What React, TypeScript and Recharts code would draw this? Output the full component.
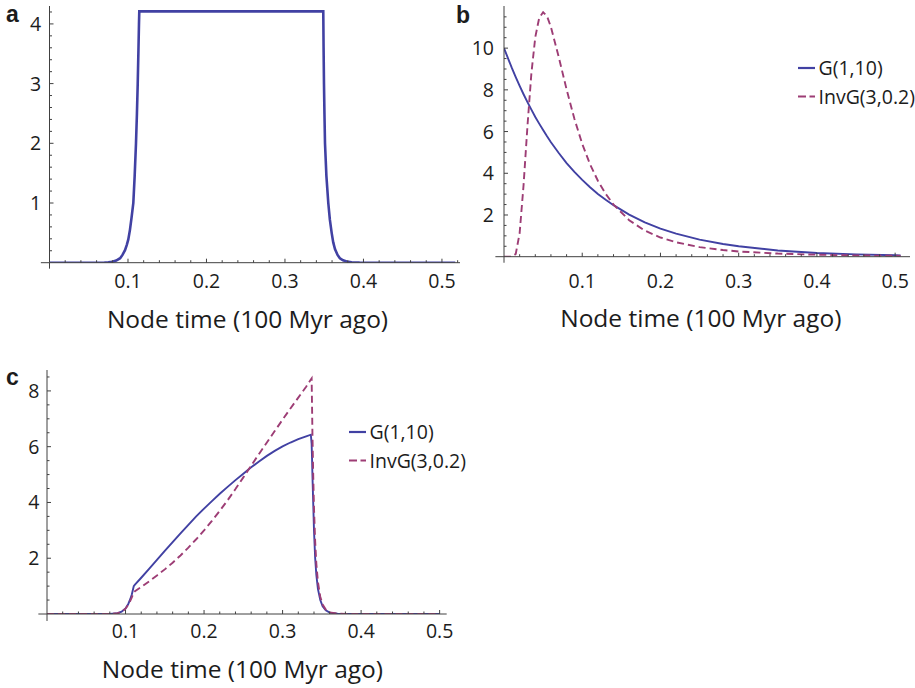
import React from 'react';
import { LineChart, Line, XAxis, YAxis, ReferenceLine, Legend } from 'recharts';

const FONT = "'Open Sans', 'DejaVu Sans', sans-serif";
const LETTER_FONT = "'Liberation Sans', Arial, sans-serif";
const BLUE = '#4141a3';
const PLUM = '#9d3d75';
const AXIS = '#404040';
const INK = '#1c1c1c';

const TITLE = 'Node time (100 Myr ago)';
const seriesNames = ['G(1,10)', 'InvG(3,0.2)'];

// panel a: calibration density with soft bounds
const aTime = [0, 0.04, 0.06, 0.07, 0.075, 0.08, 0.085, 0.09, 0.093, 0.0962, 0.0985, 0.1004, 0.1025, 0.1045,
  0.1068, 0.1085, 0.1102, 0.1114, 0.1124, 0.1133, 0.114, 0.1144, 0.3488, 0.3492, 0.3497, 0.3503, 0.351,
  0.3528, 0.3552, 0.3572, 0.3595, 0.3615, 0.3637, 0.367, 0.37, 0.374, 0.3786, 0.385, 0.395, 0.42, 0.517];
const aDensity = [0, 0, 0, 0.002, 0.006, 0.015, 0.035, 0.075, 0.13, 0.21, 0.3, 0.39, 0.55, 0.75,
  1.0, 1.45, 2.0, 2.5, 3.0, 3.55, 4.0, 4.21, 4.21, 3.6, 3.0, 2.5, 2.0,
  1.45, 1.0, 0.72, 0.5, 0.34, 0.23, 0.13, 0.075, 0.04, 0.02, 0.008, 0.002, 0, 0];

// panel b: the two rate priors
const bTime = [0, 0.01, 0.015, 0.02, 0.025, 0.03, 0.035, 0.04, 0.045, 0.05, 0.055, 0.06, 0.07, 0.08, 0.09, 0.1,
  0.11, 0.12, 0.13, 0.14, 0.16, 0.18, 0.2, 0.22, 0.25, 0.28, 0.3, 0.35, 0.4, 0.45, 0.5, 0.507];
const bGamma = [10, 9.05, 8.61, 8.19, 7.79, 7.41, 7.05, 6.7, 6.38, 6.07, 5.77, 5.49, 4.97, 4.49, 4.07, 3.68,
  3.33, 3.01, 2.73, 2.47, 2.02, 1.65, 1.35, 1.11, 0.82, 0.61, 0.5, 0.3, 0.18, 0.11, 0.07, 0.06];
const bInvGamma = [0, 0.001, 0.13, 1.13, 3.43, 6.27, 8.79, 10.53, 11.45, 11.72, 11.53, 11.01, 9.57, 8.02, 6.61, 5.41,
  4.43, 3.64, 3.01, 2.5, 1.75, 1.25, 0.92, 0.69, 0.46, 0.32, 0.25, 0.15, 0.095, 0.062, 0.043, 0.041];

// panel c: resulting node-time densities
const cTime = [0, 0.06, 0.08, 0.09, 0.095, 0.1, 0.1035, 0.106, 0.108, 0.1095, 0.1105, 0.112, 0.12, 0.13, 0.14,
  0.15, 0.16, 0.17, 0.18, 0.19, 0.2, 0.21, 0.22, 0.23, 0.24, 0.25, 0.26, 0.27, 0.28, 0.29, 0.3, 0.31, 0.32,
  0.33, 0.336, 0.337, 0.3375, 0.338, 0.339, 0.34, 0.3415, 0.343, 0.345, 0.348, 0.351, 0.355, 0.36, 0.37,
  0.38, 0.4, 0.45, 0.5];
const cGamma = [0, 0, 0.005, 0.03, 0.08, 0.2, 0.36, 0.53, 0.7, 0.88, 1.0, 1.05, 1.3, 1.62, 1.94,
  2.26, 2.58, 2.89, 3.2, 3.5, 3.78, 4.05, 4.31, 4.56, 4.8, 5.03, 5.26, 5.47, 5.67, 5.85, 6.01, 6.15, 6.27,
  6.37, 6.43, 6.1, 5.6, 5.0, 4.0, 3.0, 2.0, 1.4, 0.9, 0.5, 0.28, 0.13, 0.05, 0.01,
  0, 0, 0, 0];
const cInvGamma = [0, 0, 0.005, 0.03, 0.08, 0.19, 0.33, 0.47, 0.6, 0.7, 0.77, 0.82, 0.97, 1.17, 1.38,
  1.6, 1.84, 2.1, 2.38, 2.68, 3.0, 3.34, 3.7, 4.08, 4.48, 4.9, 5.32, 5.74, 6.15, 6.56, 6.97, 7.37, 7.76,
  8.15, 8.41, 8.45, 7.5, 6.5, 5.0, 3.8, 2.6, 1.8, 1.15, 0.62, 0.34, 0.16, 0.06, 0.012,
  0, 0, 0, 0];

const timeTicks = [0.02, 0.04, 0.06, 0.08, 0.1, 0.12, 0.14, 0.16, 0.18, 0.2, 0.22, 0.24, 0.26, 0.28, 0.3,
  0.32, 0.34, 0.36, 0.38, 0.4, 0.42, 0.44, 0.46, 0.48, 0.5];
const aTimeTicks = [...timeTicks, 0.52];
const aDensityTicks = [0.2, 0.4, 0.6, 0.8, 1, 1.2, 1.4, 1.6, 1.8, 2, 2.2, 2.4, 2.6, 2.8, 3, 3.2, 3.4, 3.6, 3.8, 4, 4.2];
const bDensityTicks = [0.5, 1, 1.5, 2, 2.5, 3, 3.5, 4, 4.5, 5, 5.5, 6, 6.5, 7, 7.5, 8, 8.5, 9, 9.5, 10, 10.5, 11, 11.5];
const cDensityTicks = [0.5, 1, 1.5, 2, 2.5, 3, 3.5, 4, 4.5, 5, 5.5, 6, 6.5, 7, 7.5, 8, 8.5];

const aRows = aTime.map((t, i) => ({ t, a: aDensity[i] }));
const bRows = bTime.map((t, i) => ({ t, g: bGamma[i], ig: bInvGamma[i] }));
const cRows = cTime.map((t, i) => ({ t, g: cGamma[i], ig: cInvGamma[i] }));

const isMajor = (v: number, step: number) => Math.abs(v / step - Math.round(v / step)) < 1e-6;

function TimeTick({ x, y, payload, drop }: any) {
  const v = payload.value;
  const major = isMajor(v, 0.1);
  return (
    <g>
      <line x1={x} x2={x} y1={y} y2={y - (major ? 4 : 2.5)} stroke={AXIS} strokeWidth={1} />
      {major && (
        <text x={x} y={y + drop} textAnchor="middle" fontFamily={FONT} fontSize={19.5} fill={INK}>
          {v.toFixed(1)}
        </text>
      )}
    </g>
  );
}

function DensityTick({ x, y, payload, step, gap }: any) {
  const v = payload.value;
  const major = isMajor(v, step);
  return (
    <g>
      <line x1={x} x2={x + (major ? 4 : 2.5)} y1={y} y2={y} stroke={AXIS} strokeWidth={1} />
      {major && (
        <text x={x - gap} y={y + 7} textAnchor="end" fontFamily={FONT} fontSize={19.5} fill={INK}>
          {v}
        </text>
      )}
    </g>
  );
}

function PriorKey() {
  return (
    <svg width={125} height={48} style={{ display: 'block', overflow: 'visible' }}>
      {seriesNames.map((name, i) => {
        const yy = 10 + i * 28.5;
        return (
          <g key={name}>
            <line x1={0} x2={17} y1={yy} y2={yy} stroke={i ? PLUM : BLUE} strokeWidth={2.2}
              strokeDasharray={i ? '8 3.5' : undefined} />
            <text x={20.5} y={yy + 7} fontFamily={FONT} fontSize={19.5} fill={INK}>{name}</text>
          </g>
        );
      })}
    </svg>
  );
}

const titleAt = (shift: number, drop: number) => (props: any) => {
  const vb = props.viewBox || { x: 0, y: 0, width: 0 };
  return (
    <text x={vb.x + vb.width / 2 + shift} y={vb.y + drop} textAnchor="middle" fontFamily={FONT} fontSize={24.5} fill={INK}>
      {TITLE}
    </text>
  );
};

interface Series { key: string; color: string; dash?: string; width: number; name: string }

// axes need a non-zero band to be drawn, so each gets 1px taken from the margin
function PriorPanel(p: {
  rows: any[]; series: Series[]; box: number[]; margin: any; xMax: number; yMax: number;
  xTicks: number[]; yTicks: number[]; yStep: number; tickDrop: number; yGap: number;
  titleShift: number; titleDrop: number; stub: number; keyAt?: number[];
}) {
  const m = { ...p.margin, left: p.margin.left - 1, bottom: p.margin.bottom - 1 };
  return (
    <div style={{ position: 'absolute', left: p.box[0], top: p.box[1] }}>
      <LineChart width={p.box[2]} height={p.box[3]} data={p.rows} margin={m}>
        <XAxis type="number" dataKey="t" domain={[0, p.xMax]} allowDataOverflow ticks={p.xTicks} interval={0}
          height={1} tickSize={0} tickMargin={0} tickLine={false} stroke={AXIS}
          tick={<TimeTick drop={p.tickDrop} />} label={titleAt(p.titleShift, p.titleDrop)} />
        <YAxis type="number" domain={[0, p.yMax]} allowDataOverflow ticks={p.yTicks} interval={0}
          width={1} tickSize={0} tickMargin={0} tickLine={false} stroke={AXIS}
          tick={<DensityTick step={p.yStep} gap={p.yGap} />} />
        <ReferenceLine segment={[{ x: -0.011, y: 0 }, { x: 0, y: 0 }]} stroke={AXIS} ifOverflow="visible" />
        <ReferenceLine segment={[{ x: 0, y: 0 }, { x: 0, y: -p.stub }]} stroke={AXIS} ifOverflow="visible" />
        {p.series.map((s) => (
          <Line key={s.key} name={s.name} type="linear" dataKey={s.key} stroke={s.color} strokeWidth={s.width}
            strokeDasharray={s.dash} dot={false} activeDot={false} isAnimationActive={false} />
        ))}
        {p.keyAt && (
          <Legend layout="vertical" align="center" verticalAlign="middle" content={<PriorKey />}
            wrapperStyle={{ left: p.keyAt[0], top: p.keyAt[1], width: 125, height: 48 }} />
        )}
      </LineChart>
    </div>
  );
}

export default function App() {
  const pair: Series[] = [
    { key: 'g', name: seriesNames[0], color: BLUE, width: 1.9 },
    { key: 'ig', name: seriesNames[1], color: PLUM, width: 1.9, dash: '7 4' },
  ];
  return (
    <div style={{ position: 'absolute', left: 0, top: 0, width: 915, height: 688, background: '#fff' }}>
      <PriorPanel rows={aRows} series={[{ key: 'a', name: 'calibration', color: BLUE, width: 2.6 }]}
        box={[0, 0, 470, 345]} margin={{ top: 6, right: 10, bottom: 82.3, left: 49.5 }}
        xMax={0.523} yMax={4.3} xTicks={aTimeTicks} yTicks={aDensityTicks} yStep={1}
        tickDrop={25.3} yGap={8.3} titleShift={-7.25} titleDrop={65.3} stub={0.1} />
      <PriorPanel rows={bRows} series={pair}
        box={[460, 0, 455, 345]} margin={{ top: 6, right: 5, bottom: 88.3, left: 44 }}
        xMax={0.519} yMax={12.02} xTicks={timeTicks} yTicks={bDensityTicks} yStep={2}
        tickDrop={31.3} yGap={10} titleShift={-6.2} titleDrop={70.3} stub={0.29} keyAt={[338, 58]} />
      <PriorPanel rows={cRows} series={pair}
        box={[0, 345, 470, 343]} margin={{ top: 25, right: 23.3, bottom: 74, left: 47 }}
        xMax={0.509} yMax={8.75} xTicks={timeTicks} yTicks={cDensityTicks} yStep={2}
        tickDrop={24.3} yGap={7.7} titleShift={-4.4} titleDrop={64} stub={0.25} keyAt={[349, 77]} />
      <svg width={915} height={688} style={{ position: 'absolute', left: 0, top: 0, pointerEvents: 'none' }}>
        <text x={6} y={22} fontFamily={LETTER_FONT} fontWeight="bold" fontSize={23} fill={INK}>a</text>
        <text x={456} y={23} fontFamily={LETTER_FONT} fontWeight="bold" fontSize={23} fill={INK}>b</text>
        <text x={6} y={385} fontFamily={LETTER_FONT} fontWeight="bold" fontSize={23} fill={INK}>c</text>
      </svg>
    </div>
  );
}
